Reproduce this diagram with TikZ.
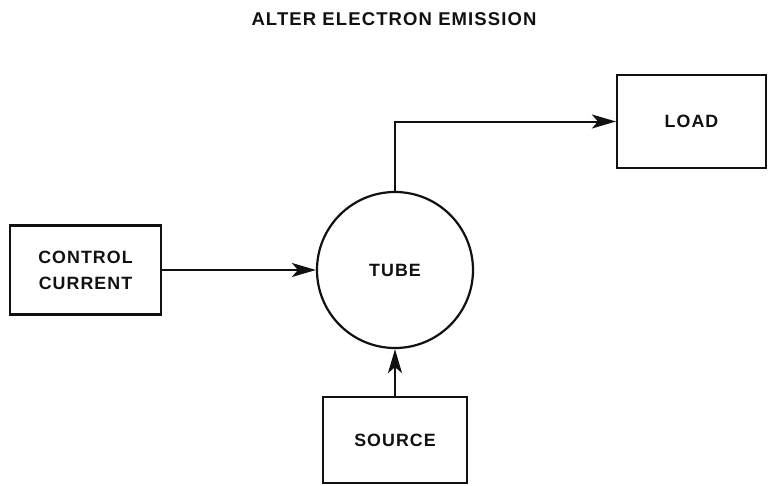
\documentclass[tikz,border=0pt]{standalone}
\usepackage{fontspec}
\setmainfont{Liberation Sans}[LetterSpace=6]
\usepackage{xcolor}
\usepackage{tikz}
\usetikzlibrary{positioning,arrows.meta}
\definecolor{ink}{HTML}{111111}

\begin{document}
\begin{tikzpicture}[x=1pt,y=-1pt,
    block/.style={draw=ink, line width=2.2pt, minimum width=#1, inner sep=0pt,
      font=\fontsize{17.8}{26}\selectfont\bfseries, text=ink, align=center},
    link/.style={draw=ink, line width=2pt, -{Stealth[length=24pt,width=14pt,inset=6pt]}}]
  \useasboundingbox[fill=white] (0,0) rectangle (768,485);
  % title
  \node[font=\fontsize{18.5}{20}\selectfont\bfseries, text=ink] (title) at (394,19) {ALTER ELECTRON EMISSION};
  % blocks
  \node[block=151pt, minimum height=89pt] (ctrl) at (85.5,270) {CONTROL\\CURRENT};
  \node[block=156pt, circle] (tube) at (395,270) {TUBE};
  \node[block=149pt, minimum height=93pt] (load) at (691.5,121.5) {LOAD};
  \node[block=144pt, minimum height=86pt] (src) at (395,440) {SOURCE};
  % connectors
  \draw[link] (ctrl.east) -- (tube.west);
  \draw[link] (src.north) -- (tube.south);
  \draw[link] (tube.north) |- (load.west);
\end{tikzpicture}
\end{document}
